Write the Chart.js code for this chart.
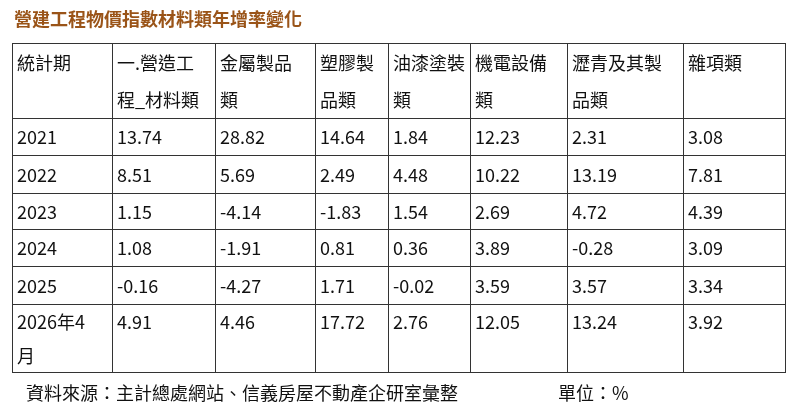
<!DOCTYPE html>
<html><head><meta charset="utf-8">
<script src="https://cdn.jsdelivr.net/npm/chart.js@4"></script>
<style>html,body{margin:0;padding:0;background:#fff;overflow:hidden}#w{width:800px;height:414px;position:relative}</style>
</head><body><div id="w"><canvas id="c" width="800" height="414"></canvas></div>
<script>
const title = "營建工程物價指數材料類年增率變化";
const source = "資料來源：主計總處網站、信義房屋不動產企研室彙整";
const unit = "單位：%";
const headers = [["統計期"],["一.營造工","程_材料類"],["金屬製品","類"],["塑膠製","品類"],["油漆塗裝","類"],["機電設備","類"],["瀝青及其製","品類"],["雜項類"]];
const periods = [["2021"],["2022"],["2023"],["2024"],["2025"],["2026年4","月"]];
const construction = ["13.74","8.51","1.15","1.08","-0.16","4.91"];
const metal = ["28.82","5.69","-4.14","-1.91","-4.27","4.46"];
const plastic = ["14.64","2.49","-1.83","0.81","1.71","17.72"];
const paint = ["1.84","4.48","1.54","0.36","-0.02","2.76"];
const electro = ["12.23","10.22","2.69","3.89","3.59","12.05"];
const asphalt = ["2.31","13.19","4.72","-0.28","3.57","13.24"];
const misc = ["3.08","7.81","4.39","3.09","3.34","3.92"];
const series = [construction, metal, plastic, paint, electro, asphalt, misc];

// layout (table grid, in axis units)
const colEdges = [0,100,203,303,376,458,555,671,773];
const rowEdges = [0,75,112,150,186,223,261,329];
const FONT = '18px "Noto Sans CJK TC", "Noto Sans", sans-serif';

const tablePlugin = {
  id:'tableText',
  afterDraw(chart){
    const ctx = chart.ctx, xs = chart.scales.x, ys = chart.scales.y;
    ctx.save();
    ctx.fillStyle = '#111'; ctx.font = FONT; ctx.textBaseline = 'middle'; ctx.textAlign = 'left';
    const cell = (ci, ri, lines) => {
      const x = xs.getPixelForValue(colEdges[ci]) + 5;
      const top = ys.getPixelForValue(rowEdges[ri]), bot = ys.getPixelForValue(rowEdges[ri+1]);
      const h = (bot-top)/Math.max(lines.length, 1);
      lines.forEach((t,i)=>ctx.fillText(t, x, top + h*(i+0.5) + 1));
    };
    headers.forEach((h,ci)=>cell(ci,0,h.length===1?[h[0],""]:h));
    periods.forEach((p,ri)=>{
      cell(0, ri+1, p);
      series.forEach((s,ci)=>cell(ci+1, ri+1, p.length===2?[s[ri],""]:[s[ri]]));
    });
    ctx.fillStyle = '#9a5418'; ctx.font = 'bold 18px "Noto Sans CJK TC", sans-serif';
    ctx.fillText(title, 14, 19);
    ctx.fillStyle = '#111'; ctx.font = FONT;
    ctx.fillText(source, 26, 393);
    ctx.fillText(unit, 558, 393);
    ctx.restore();
  }
};

const gridOpts = {color:'#333', lineWidth:1, drawTicks:false};
new Chart(document.getElementById('c'), {
  type:'scatter',
  data:{datasets:[{data:[]}]},
  options:{
    responsive:false, animation:false, devicePixelRatio:1,
    layout:{padding:{left:12,top:43,right:15,bottom:42}},
    plugins:{legend:{display:false},tooltip:{enabled:false}},
    scales:{
      x:{type:'linear', min:colEdges[0], max:colEdges[colEdges.length-1], grid:gridOpts, border:{color:'#333'},
         ticks:{display:false}, afterBuildTicks(s){s.ticks = colEdges.map(v=>({value:v}));}},
      y:{type:'linear', reverse:true, min:rowEdges[0], max:rowEdges[rowEdges.length-1], grid:gridOpts, border:{color:'#333'},
         ticks:{display:false}, afterBuildTicks(s){s.ticks = rowEdges.map(v=>({value:v}));}}
    }
  },
  plugins:[tablePlugin]
});
</script>
</body></html>
